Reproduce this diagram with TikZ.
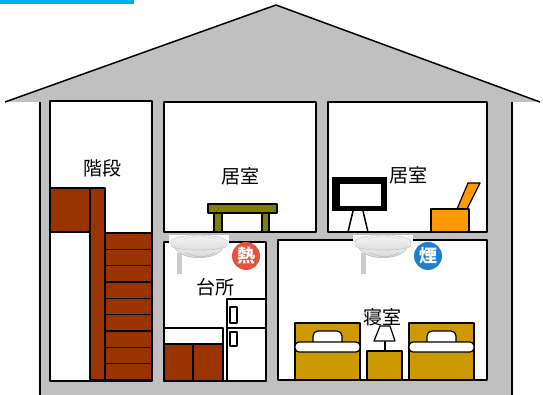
\documentclass[tikz,border=0pt]{standalone}
\usepackage{fontspec}
\newfontfamily\jpfont{Noto Sans CJK JP}
\definecolor{wallgray}{HTML}{C0C0C0}
\definecolor{woodbrown}{HTML}{993300}
\definecolor{tableolive}{HTML}{808000}
\definecolor{chairorange}{HTML}{FF9900}
\definecolor{bedyellow}{HTML}{CC9900}
\definecolor{heatred}{HTML}{E8503F}
\definecolor{smokeblue}{HTML}{1E7FD0}
\tikzset{
  room/.style={draw=black, fill=white, line width=1.5pt},
  wood/.style={draw=black, fill=woodbrown, line width=1.2pt},
  roomtext/.style={font=\jpfont\fontsize{19pt}{19pt}\selectfont},
  badge/.style={circle, minimum size=28pt, inner sep=0pt, text=white,
    font=\jpfont\bfseries\fontsize{18pt}{18pt}\selectfont},
}
% smoke detector, top left corner at #1
\newcommand\smokedet[1]{
  \begin{scope}[shift={#1}]
    \fill[white] (0,0) rectangle (60,40);
    \fill[gray!40] (8,18) rectangle (13,39);
    \draw[gray!60, top color=gray!10, bottom color=gray!40] (5,10) .. controls (8,27) and (52,27) .. (55,10) -- cycle;
    \draw[gray!50, top color=gray!5, bottom color=gray!30] (2,7) .. controls (2,-2) and (58,-2) .. (58,7) -- (58,10) .. controls (58,17) and (2,17) .. (2,10) -- cycle;
    \draw[gray!60] (16,17) .. controls (24,23) and (40,23) .. (46,17);
    \draw[gray!40] (14,4) .. controls (24,1) and (38,1) .. (48,4);
  \end{scope}
}
% bed, top left corner at #1
\newcommand\bed[1]{
  \begin{scope}[shift={#1}, line width=1.2pt]
    \draw[fill=bedyellow] (0,0) rectangle (65,57);
    \draw[fill=white, rounded corners=5pt] (18,21) -- (18,8) -- (47,8) -- (47,21);
    \draw[fill=white, rounded corners=4pt] (0,19) rectangle (65,29);
  \end{scope}
}

\begin{document}
\begin{tikzpicture}[x=1pt, y=-1pt, line join=round]
\useasboundingbox (0,0) rectangle (543,395);
\fill[cyan] (0,0) rectangle (134,4);

% house body and roof
\fill[wallgray] (40,101) rectangle (512,395);
\draw[line width=1.5pt] (40,101) -- (40,395);
\draw[line width=1.5pt] (512,101) -- (512,395);
\fill[wallgray] (5,102) -- (276,5) -- (540,102) -- cycle;
\draw[line width=1.5pt] (5,102) -- (276,5) -- (540,102);

% rooms
\draw[room] (50,101) rectangle (152,381);
\draw[room] (164,102) rectangle (316,232);
\draw[room] (328,102) rectangle (487,232);
\draw[room] (164,242) rectangle (266,381);
\draw[room] (278,240) rectangle (487,380);

% stairs
\draw[wood] (50,188) rectangle (90,232);
\draw[wood] (90,188) rectangle (105,380);
\foreach \i in {0,...,8}
  \draw[wood] (105,233+\i*16.33) rectangle (152,233+\i*16.33+16.33);
\node[roomtext] (stairs) at (102,168) {階段};

% living room with table
\draw[fill=tableolive, line width=1.2pt] (214,213) rectangle (222,232);
\draw[fill=tableolive, line width=1.2pt] (262,213) rectangle (269,232);
\draw[fill=tableolive, line width=1.2pt] (208,204) rectangle (277,213);
\node[roomtext] (living1) at (240,176) {居室};

% living room with tv and chair
\fill (332,177) rectangle (387,211);
\fill[white] (340,184) rectangle (381,206);
\draw[line width=1.5pt] (353,211) -- (348,232);
\draw[line width=1.5pt] (363,211) -- (368,232);
\draw[fill=chairorange, line width=1.2pt] (457,209) -- (468,183) -- (480,183) -- (467,209) -- cycle;
\draw[fill=chairorange, line width=1.2pt] (431,209) rectangle (469,232);
\node[roomtext] (living2) at (408,175) {居室};

% kitchen
\draw[fill=white, line width=1.2pt] (164,328) rectangle (223,344);
\draw[wood] (164,344) rectangle (193,381);
\draw[wood] (193,344) rectangle (223,381);
\draw[fill=white, line width=1.2pt] (227,299) rectangle (266,381);
\draw[line width=1.2pt] (227,328) -- (266,328);
\draw[line width=1.2pt] (230,307) rectangle (237,323);
\draw[line width=1.2pt] (230,332) rectangle (237,346);
\node[roomtext] (kitchen) at (215,287) {台所};

% bedroom
\bed{(295,323)}
\bed{(409,323)}
\draw[fill=bedyellow, line width=1.2pt] (367,351) rectangle (402,380);
\draw[line width=1.2pt] (385,341) -- (385,351);
\draw[fill=white, line width=1.2pt] (380,326) -- (390,326) -- (395,341) -- (374,341) -- cycle;
\node[roomtext] (bedroom) at (382,317) {寝室};

% detectors
\smokedet{(169,235)}
\smokedet{(353,235)}
\node[badge, fill=heatred] (heat) at (246,256) {熱};
\node[badge, fill=smokeblue] (smoke) at (428,256) {煙};
\end{tikzpicture}
\end{document}
